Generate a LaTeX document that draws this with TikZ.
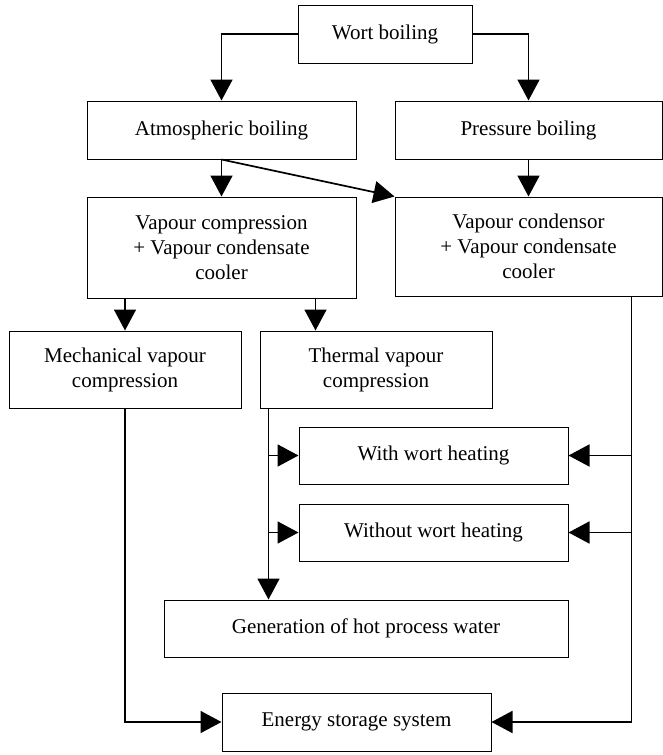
\documentclass[tikz,border=0pt]{standalone}
\usepackage{fontspec}
\setmainfont{Liberation Serif}
\usetikzlibrary{positioning}
\usetikzlibrary{arrows.meta}
\usetikzlibrary{calc}
\tikzstyle{block}=[rectangle,draw=black,line width=1pt,align=center,inner sep=0pt,font=\fontsize{21}{25}\selectfont]
\tikzstyle{flow} = [draw,line width=1.7pt,-{Triangle[length=21pt,width=22pt]}]

\begin{document}
\begin{tikzpicture}[x=1pt,y=-1pt]
\useasboundingbox (0,0) rectangle (663,755);

    % First the boxes: centre / name / width / height / text
    \foreach \pos/\name/\w/\h/\label in {{(385,34)/wort/174/58/Wort boiling},
        {(221.5,130)/atm/269/58/Atmospheric boiling}, {(528.5,130)/pres/267/58/Pressure boiling},
        {(221.5,247.5)/vcomp/269/101/Vapour compression\\+ Vapour condensate\\cooler},
        {(528.5,246.5)/vcond/267/99/Vapour condensor\\+ Vapour condensate\\cooler},
        {(125,369.5)/mvc/232/77/Mechanical vapour\\compression}, {(376,369.5)/tvc/232/77/Thermal vapour\\compression},
        {(433.5,455.5)/with/269/57/With wort heating}, {(433.5,532.5)/without/269/57/Without wort heating},
        {(366,628.5)/gen/404/57/Generation of hot process water},
        {(356.5,722)/energy/269/58/Energy storage system}}
        \node[block,minimum width=\w pt,minimum height=\h pt] (\name) at \pos {\label};

    % Boiling branches
    \draw[flow] (wort.west) -| (atm.north);
    \draw[flow] (wort.east) -| (pres.north);
    \draw[flow] (atm.south) -- (vcomp.north);
    \draw[flow] (atm.south) -- (vcond.north west);
    \draw[flow] (pres.south) -- (vcond.north);

    % Vapour compression splits in two
    \coordinate (tvcin) at ($(tvc.north west)+(56,0)$);
    \draw[flow] (mvc.north |- vcomp.south) -- (mvc.north);
    \draw[flow] (tvcin |- vcomp.south) -- (tvcin);

    % Left feed lines
    \draw[flow] (mvc.south) |- (energy.west);
    \coordinate (tvcout) at ($(tvc.south west)+(9,0)$);
    \draw[flow] (tvcout) -- (tvcout |- gen.north);
    \foreach \dest in {with, without}
          \draw[flow] (tvcout |- \dest.west) -- (\dest.west);

    % Right feed line from the condensor
    \coordinate (vcout) at ($(vcond.south east)+(-31,0)$);
    \draw[flow] (vcout) |- (energy.east);
    \foreach \dest in {with, without}
          \draw[flow] (vcout |- \dest.east) -- (\dest.east);

\end{tikzpicture}
\end{document}
